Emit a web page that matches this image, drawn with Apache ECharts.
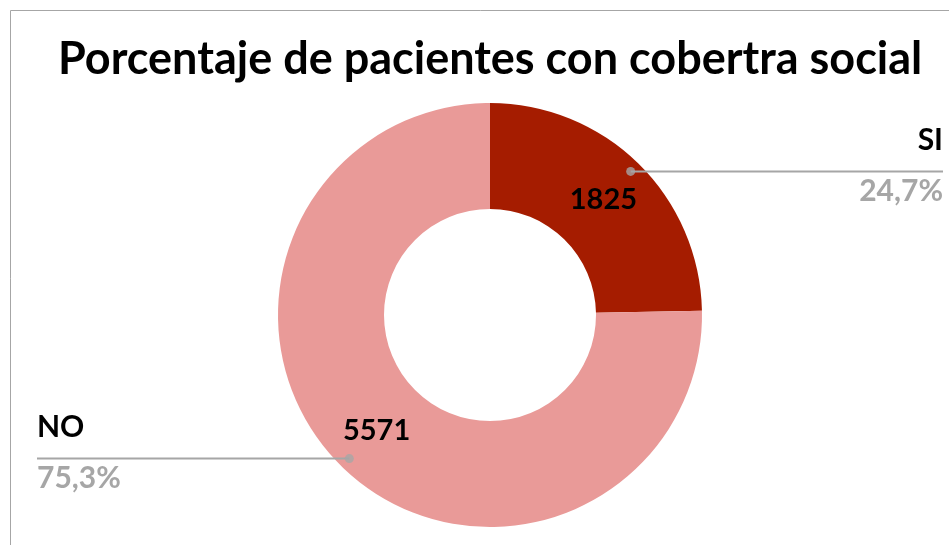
<!DOCTYPE html>
<html>
<head>
<meta charset="utf-8">
<script src="https://cdn.jsdelivr.net/npm/echarts@6/dist/echarts.min.js"></script>
<style>
  html, body { margin: 0; padding: 0; background: #fff; }
  #chart { width: 949px; height: 545px; }
</style>
</head>
<body>
<div id="chart"></div>
<script>
// datos
var categorias = ['SI', 'NO'];
var pacientes = [1825, 5571];
var colores = ['#a51c00', '#e99a98'];

var total = pacientes.reduce(function (a, b) { return a + b; }, 0);

function pct(v) {
  return (v / total * 100).toFixed(1).replace('.', ',') + '%';
}

// puntos medios de cada porción (para los puntitos de la guía)
var acum = 0;
var medios = pacientes.map(function (v) {
  var m = acum + v / 2;
  acum += v;
  return [1, m];
});

var myChart = echarts.init(document.getElementById('chart'));
var W = 949;

var option = {
  backgroundColor: '#fff',
  animation: false,
  title: {
    text: 'Porcentaje de pacientes con cobertra social',
    left: 53,
    top: 32,
    textStyle: { fontFamily: 'Lato', fontWeight: 'bold', fontSize: 45, color: '#000' }
  },
  graphic: [{
    type: 'rect',
    shape: { x: 10.5, y: 10.5, width: 2000, height: 2000 },
    style: { fill: 'none', stroke: '#a6a6a6', lineWidth: 1 },
    silent: true
  }],
  polar: { center: [490, 315], radius: 201 },
  angleAxis: { type: 'value', min: 0, max: total, startAngle: 90, clockwise: true, show: false },
  radiusAxis: { type: 'value', min: 0, max: 1, show: false },
  series: [
    {
      type: 'pie',
      center: [490, 315],
      radius: [106, 212],
      startAngle: 90,
      clockwise: true,
      silent: true,
      data: categorias.map(function (c, i) {
        return { name: c, value: pacientes[i], itemStyle: { color: colores[i] } };
      }),
      label: {
        show: true,
        position: 'inside',
        formatter: '{c}',
        fontFamily: 'Lato',
        fontWeight: 'bold',
        fontSize: 29,
        color: '#000'
      },
      labelLine: { show: false }
    },
    {
      type: 'pie',
      center: [490, 315],
      radius: [0, 201],
      startAngle: 90,
      clockwise: true,
      silent: true,
      z: 3,
      itemStyle: { color: 'transparent' },
      data: categorias.map(function (c, i) {
        return { name: c, value: pacientes[i] };
      }),
      label: {
        show: true,
        formatter: function (p) { return '{n|' + p.name + '}\n{p|' + pct(p.value) + '}'; },
        rich: {
          n: { fontFamily: 'Lato', fontWeight: 'bold', fontSize: 30, color: '#000', lineHeight: 51 },
          p: { fontFamily: 'Lato', fontWeight: 'bold', fontSize: 30, color: '#a6a6a6', lineHeight: 51 }
        }
      },
      labelLine: { show: true, lineStyle: { color: '#a6a6a6', width: 2 } },
      labelLayout: function (params) {
        var p0 = params.labelLinePoints[0];
        var derecha = p0[0] > 490;
        var edge = derecha ? W - 6 : 37;
        return {
          x: edge,
          y: p0[1] - 6,
          align: derecha ? 'right' : 'left',
          verticalAlign: 'middle',
          labelLinePoints: [[p0[0], p0[1]], [(p0[0] + edge) / 2, p0[1]], [edge, p0[1]]]
        };
      }
    },
    {
      type: 'scatter',
      coordinateSystem: 'polar',
      symbol: 'circle',
      symbolSize: 9,
      silent: true,
      z: 4,
      itemStyle: { color: '#a6a6a6' },
      data: medios
    }
  ]
};

myChart.setOption(option);
</script>
</body>
</html>
